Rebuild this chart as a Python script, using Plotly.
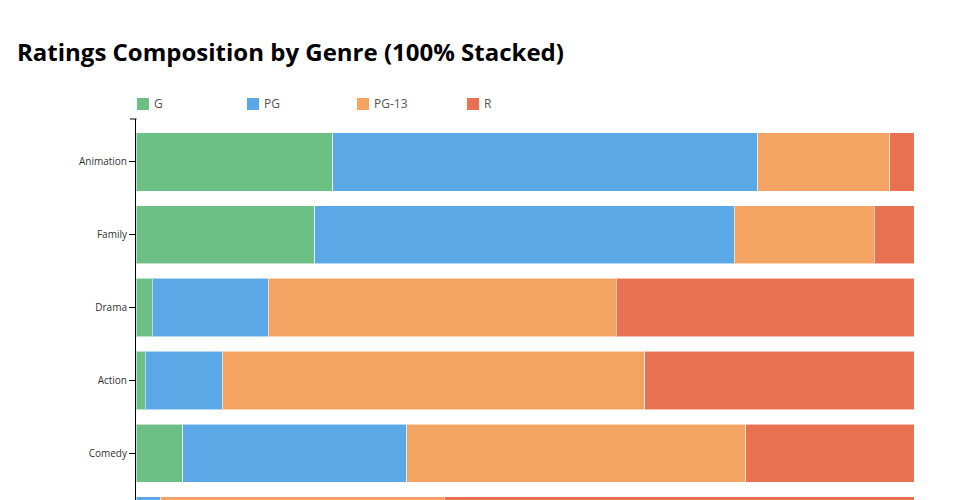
import plotly.graph_objects as go

genres = ["Animation", "Family", "Drama", "Action", "Comedy", "Horror"]
ratings = ["G", "PG", "PG-13", "R"]
g_pct = [25.3, 23.0, 2.1, 1.2, 6.0, 0.0]
pg_pct = [54.6, 53.9, 14.9, 9.9, 28.8, 3.1]
pg13_pct = [17.0, 18.0, 44.7, 54.3, 43.6, 36.5]
r_pct = [3.1, 5.1, 38.3, 34.6, 21.6, 60.4]
colors = ["#6cc085", "#5aa8e6", "#f4a462", "#e87152"]

series = [g_pct, pg_pct, pg13_pct, r_pct]

OFF = 8  # page body margin
W, H = 960, 600
ML, MT = 136 - OFF, 119 - OFF
PW = 778
MR = W - ML - PW
PH = 450
MB = H - MT - PH

fig = go.Figure()
for name, vals, col in zip(ratings, series, colors):
    fig.add_trace(go.Bar(
        y=genres, x=vals, name=name, orientation="h",
        marker=dict(color=col, line=dict(color="rgba(255,255,255,0.55)", width=1)),
        showlegend=False,
        hovertemplate="%{y}<br>" + name + ": %{x:.1f}%<extra></extra>",
    ))

def px_x(px):
    return (px - OFF - ML) / PW

def px_y(py):
    return (MT + PH - (py - OFF)) / PH

shapes = []
annotations = []
# manual legend
for i, (name, col) in enumerate(zip(ratings, colors)):
    x0 = 137 + i * 110
    shapes.append(dict(type="rect", xref="paper", yref="paper",
                       x0=px_x(x0), x1=px_x(x0 + 12), y0=px_y(110), y1=px_y(98),
                       fillcolor=col, line=dict(width=0)))
    annotations.append(dict(xref="paper", yref="paper", x=px_x(x0 + 15), y=px_y(104),
                            text=name, showarrow=False, xanchor="left", yanchor="middle",
                            font=dict(family="Open Sans", size=12, color="#555")))
# outer tick at top of axis
shapes.append(dict(type="line", xref="paper", yref="paper",
                   x0=px_x(130), x1=px_x(136.5), y0=1, y1=1,
                   line=dict(color="black", width=1)))

n = len(genres)
fig.update_layout(
    width=W, height=H,
    margin=dict(l=ML, r=MR, t=MT, b=MB),
    paper_bgcolor="white", plot_bgcolor="white",
    barmode="stack", bargap=0.2,
    title=dict(text="<b>Ratings Composition by Genre (100% Stacked)</b>",
               x=(17 - OFF) / W, xanchor="left", y=1 - (53 - OFF) / H, yanchor="middle",
               font=dict(family="Open Sans", size=24, color="black")),
    font=dict(family="Open Sans"),
    xaxis=dict(range=[0, 100], visible=False, fixedrange=True),
    yaxis=dict(categoryorder="array", categoryarray=genres, type="category",
               range=[n - 1 + 0.59, -0.59],
               showline=True, linecolor="black", linewidth=1,
               ticks="outside", ticklen=6, tickcolor="black", tickwidth=1,
               showgrid=False, zeroline=False,
               tickfont=dict(family="Open Sans", size=10, color="#333")),
    shapes=shapes, annotations=annotations,
)

fig.write_html("out.html")
